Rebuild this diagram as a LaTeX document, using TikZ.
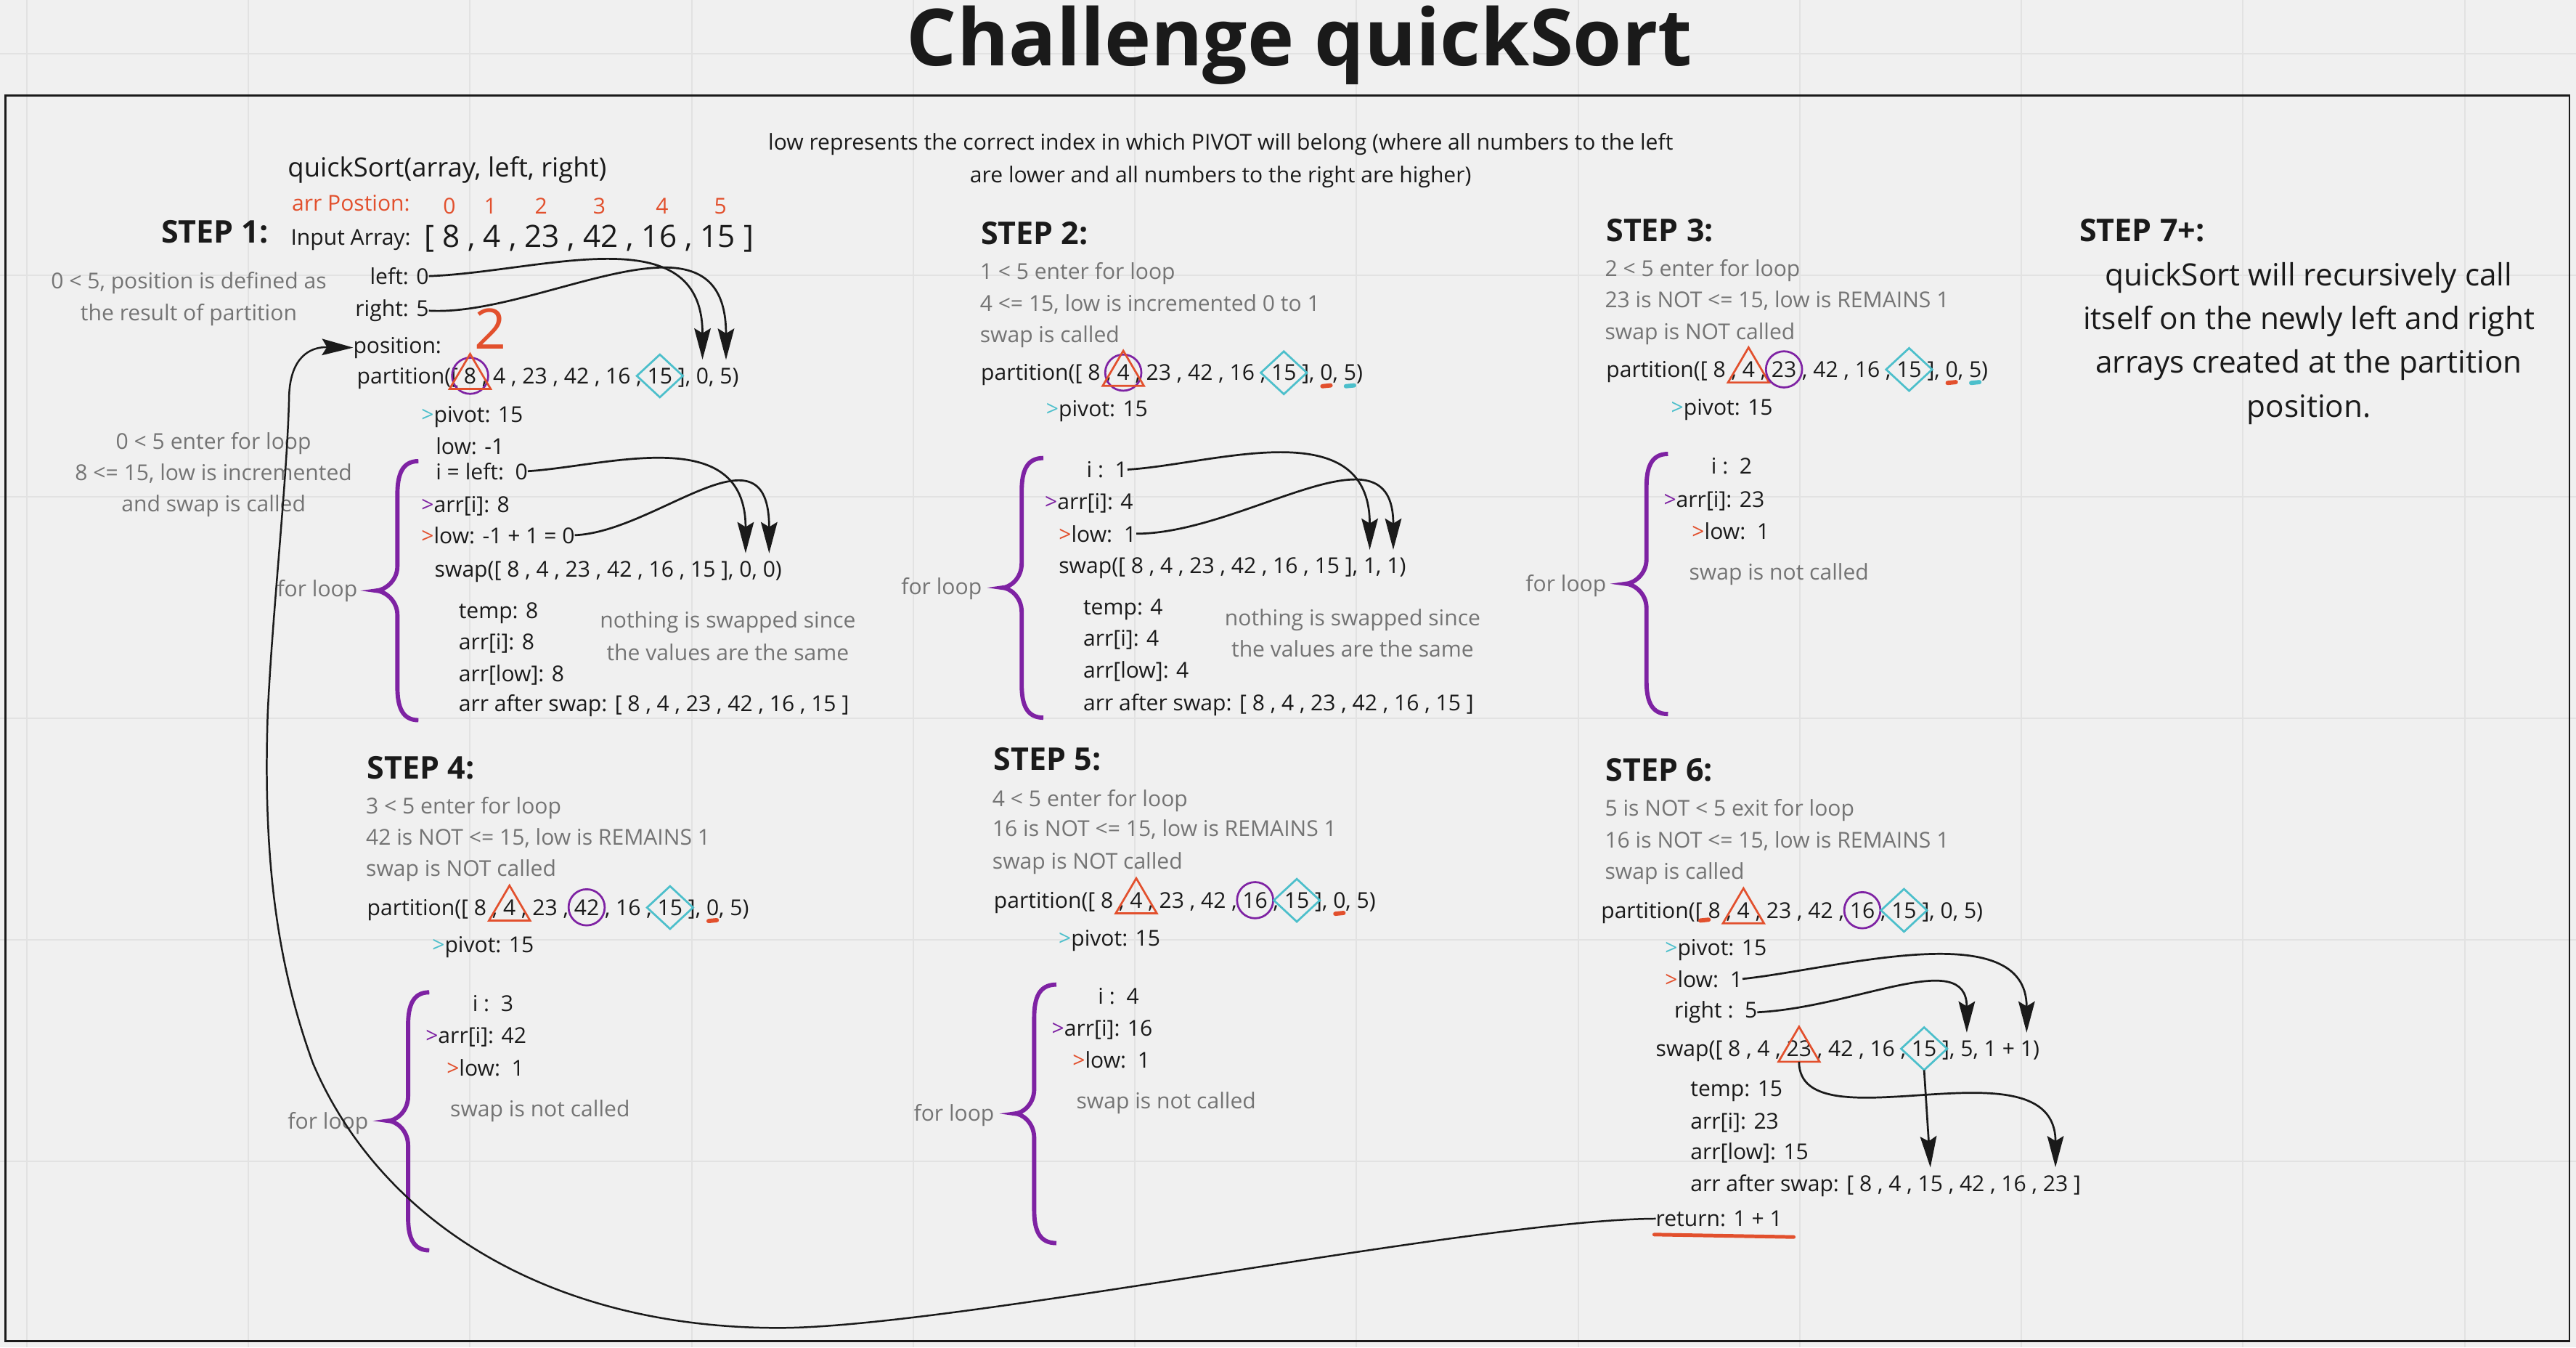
\documentclass[tikz,border=0pt]{standalone}
\usepackage{fontspec}
\setmainfont{Open Sans}
\usetikzlibrary{arrows.meta}
\definecolor{bgc}{RGB}{240,240,240}
\definecolor{gridc}{RGB}{226,226,226}
\definecolor{ink}{RGB}{26,26,26}
\definecolor{gtxt}{RGB}{116,116,116}
\definecolor{redc}{RGB}{226,80,45}
\definecolor{purp}{RGB}{126,34,163}
\definecolor{cyn}{RGB}{76,191,203}
\newcommand\fsb{\fontsize{13.3}{18}\selectfont}
\tikzset{
  txt/.style={font=\fsb, text=ink, inner sep=0pt, outer sep=0pt, anchor=base west},
  gry/.style={txt, text=gtxt},
  gryc/.style={gry, anchor=base},
  stp/.style={txt, font=\fontsize{19}{22}\selectfont\bfseries},
  ph/.style={txt},
  conn/.style={draw=ink, line width=1.2pt, -{Stealth[length=19pt,width=10pt,inset=3pt]}},
  tri/.style={draw=redc, line width=1.2pt},
  circ/.style={draw=purp, line width=1.2pt},
  dia/.style={draw=cyn, line width=1.2pt},
  brc/.style={draw=purp, line width=2.6pt},
  mk/.style={line width=2.6pt, line cap=round},
  gridl/.style={draw=gridc, line width=0.9pt}
}
\newcommand\mktok[4]{\node[ph] (#1-p) at (#2.base west) {\phantom{#3}};\node[ph] (#1) at (#1-p.base east) {\phantom{#4}};}
\newcommand\ptri[1]{\draw[tri] ([xshift=-12.5pt,yshift=-8pt]#1.center) -- ([yshift=13.3pt]#1.center) -- ([xshift=12.5pt,yshift=-8pt]#1.center) -- cycle;}
\newcommand\pcir[1]{\draw[circ] (#1.center) circle[radius=11pt];}
\newcommand\pdia[1]{\draw[dia] ([xshift=-14pt]#1.center) -- ([yshift=13pt]#1.center) -- ([xshift=14pt]#1.center) -- ([yshift=-13pt]#1.center) -- cycle;}
\newcommand\pmk[2]{\draw[mk,#2] ([xshift=-2.5pt,yshift=-3.5pt]#1.base) -- ([xshift=2.5pt,yshift=-3pt]#1.base);}
\newcommand\loopbr[6]{\draw[brc] (#1,#4) .. controls ({#2+3},#4) and (#2,{#4+8}) .. (#2,{#4+20}) -- (#2,{#5-15}) .. controls (#2,{#5-5}) and ({#3+4},#5) .. (#3,#5) .. controls ({#3+4},#5) and (#2,{#5+5}) .. (#2,{#5+15}) -- (#2,{#6-20}) .. controls (#2,{#6-8}) and ({#2+3},#6) .. (#1,#6);}
\begin{document}
\begin{tikzpicture}[x=1pt,y=-1pt]
\useasboundingbox (0,0) rectangle (1568,820);
\fill[bgc] (0,0) rectangle (1568,820);
\foreach \k in {0,...,11} \draw[gridl] ({16.3+134.9*\k},0) -- ({16.3+134.9*\k},820);
\foreach \k in {0,...,5} \draw[gridl] (0,{32.7+134.8*\k}) -- (1568,{32.7+134.8*\k});
\draw[ink, line width=1.3pt] (3.5,58) rectangle (1564,816);

% title and note
\node[font=\fontsize{48}{50}\selectfont\bfseries, text=ink, anchor=base, inner sep=0pt] (title) at (791,40) {Challenge quickSort};
\node[txt, anchor=base] (note1) at (743,91.3) {low represents the correct index in which PIVOT will belong (where all numbers to the left};
\node[txt, anchor=base] (note2) at (743,111) {are lower and all numbers to the right are higher)};

% STEP 1
\node[txt, font=\fontsize{16.1}{19}\selectfont] (qs) at (175.2,107.4) {quickSort(array, left, right)};
\node[txt, text=redc] (arrpos) at (177.7,128.2) {arr Postion:};
\node[txt, text=redc, anchor=base] (ix0) at (273.5,130.2) {0};
\node[txt, text=redc, anchor=base] (ix1) at (298.5,130.2) {1};
\node[txt, text=redc, anchor=base] (ix2) at (329.3,130.2) {2};
\node[txt, text=redc, anchor=base] (ix3) at (364.8,130.2) {3};
\node[txt, text=redc, anchor=base] (ix4) at (403,130.2) {4};
\node[txt, text=redc, anchor=base] (ix5) at (438.5,130.2) {5};
\node[stp] (st1) at (98.2,148) {STEP 1:};
\node[txt] (inarr) at (177,149.2) {Input Array:};
\node[txt, font=\fontsize{18.7}{22}\selectfont] (arr) at (258.3,150.5) {[ 8 , 4 , 23 , 42 , 16 , 15 ]};
\node[gryc] (n1a) at (114.9,175.6) {0 < 5, position is defined as};
\node[gryc] (n1b) at (114.9,195) {the result of partition};
\node[txt, anchor=base east] (left1) at (261,173) {left: 0};
\node[txt, anchor=base east] (right1) at (261,192.5) {right: 5};
\node[txt] (pos) at (215,214.8) {position:};
\node[txt, text=redc, anchor=center, font=\fontsize{34}{34}\selectfont] (two) at (298.6,200) {2};
\node[txt] (p1) at (217.3,233.4) {partition([ 8 , 4 , 23 , 42 , 16 , 15 ], 0, 5)};
\node[txt] (pv1) at (256.5,257) {\textcolor{cyn}{>}pivot: 15};
\node[txt] (lw1) at (265.3,276.5) {low: -1};
\node[txt] (il1) at (265.3,291.7) {i = left:\ \ 0};
\node[txt] (ai1) at (256.5,312) {\textcolor{purp}{>}arr[i]: 8};
\node[txt] (lc1) at (256.5,330.6) {\textcolor{redc}{>}low: -1 + 1 = 0};
\node[txt] (sw1) at (264.6,351.3) {swap([ 8 , 4 , 23 , 42 , 16 , 15 ], 0, 0)};
\node[txt] (tp1) at (279.2,376.3) {temp: 8};
\node[txt] (ar1) at (279.2,395.5) {arr[i]: 8};
\node[txt] (al1) at (279.2,414.6) {arr[low]: 8};
\node[txt] (as1) at (279.2,433) {arr after swap: [ 8 , 4 , 23 , 42 , 16 , 15 ]};
\node[gryc] (ns1a) at (443,382.2) {nothing is swapped since};
\node[gryc] (ns1b) at (443,402) {the values are the same};
\node[gry] (fl1) at (168.6,363.1) {for loop};
\node[gryc] (g1a) at (130,273.2) {0 < 5 enter for loop};
\node[gryc] (g1b) at (130,292.4) {8 <= 15, low is incremented};
\node[gryc] (g1c) at (130,311.5) {and swap is called};
\mktok{p1e}{p1}{partition([ }{8}
\mktok{p1f}{p1}{partition([ 8 , 4 , 23 , 42 , 16 , }{15}
\mktok{p1z}{p1}{partition([ 8 , 4 , 23 , 42 , 16 , 15 ], }{0}
\mktok{p1v}{p1}{partition([ 8 , 4 , 23 , 42 , 16 , 15 ], 0, }{5}
\mktok{s1a}{sw1}{swap([ 8 , 4 , 23 , 42 , 16 , 15 ], }{0}
\mktok{s1b}{sw1}{swap([ 8 , 4 , 23 , 42 , 16 , 15 ], 0, }{0}
\pcir{p1e}\ptri{p1e}\pdia{p1f}
\draw[conn] (left1.east) .. controls +(69,-2.5) and +(0,-88) .. ([yshift=5pt]p1z.north);
\draw[conn] (right1.east) .. controls +(68,4) and +(0,-100) .. ([yshift=5pt]p1v.north);
\draw[conn] (il1.east) .. controls +(48,-3) and +(0,-80) .. ([yshift=5pt]s1a.north);
\draw[conn] (lc1.east) .. controls +(50,-2) and +(0,-82) .. ([yshift=5pt]s1b.north);
\loopbr{254.7}{241.9}{229}{280.6}{359.4}{438.2}

% STEP 2
\node[stp] (st2) at (597.1,148.5) {STEP 2:};
\node[gry] (g2a) at (596.5,169.7) {1 < 5 enter for loop};
\node[gry] (g2b) at (596.5,189.3) {4 <= 15, low is incremented 0 to 1};
\node[gry] (g2c) at (596.5,208.4) {swap is called};
\node[txt] (p2) at (597.1,231.5) {partition([ 8 , 4 , 23 , 42 , 16 , 15 ], 0, 5)};
\node[txt] (pv2) at (636.8,253.3) {\textcolor{cyn}{>}pivot: 15};
\node[txt] (i2) at (661.4,290.5) {i :\ \ 1};
\node[txt] (ai2) at (636,310) {\textcolor{purp}{>}arr[i]: 4};
\node[txt] (lw2) at (644.5,329.7) {\textcolor{redc}{>}low:\ \ 1};
\node[txt] (sw2) at (644.5,349) {swap([ 8 , 4 , 23 , 42 , 16 , 15 ], 1, 1)};
\node[txt] (tp2) at (659.4,374.1) {temp: 4};
\node[txt] (ar2) at (659.4,393.3) {arr[i]: 4};
\node[txt] (al2) at (659.4,412.7) {arr[low]: 4};
\node[txt] (as2) at (659.4,432.3) {arr after swap: [ 8 , 4 , 23 , 42 , 16 , 15 ]};
\node[gryc] (ns2a) at (823.3,380.8) {nothing is swapped since};
\node[gryc] (ns2b) at (823.3,399.9) {the values are the same};
\node[gry] (fl2) at (548.6,361.6) {for loop};
\mktok{p2f}{p2}{partition([ 8 , }{4}
\mktok{p2d}{p2}{partition([ 8 , 4 , 23 , 42 , 16 , }{15}
\mktok{p2z}{p2}{partition([ 8 , 4 , 23 , 42 , 16 , 15 ], }{0}
\mktok{p2v}{p2}{partition([ 8 , 4 , 23 , 42 , 16 , 15 ], 0, }{5}
\mktok{s2a}{sw2}{swap([ 8 , 4 , 23 , 42 , 16 , 15 ], }{1}
\mktok{s2b}{sw2}{swap([ 8 , 4 , 23 , 42 , 16 , 15 ], 1, }{1}
\pcir{p2f}\ptri{p2f}\pdia{p2d}\pmk{p2z}{redc}\pmk{p2v}{cyn}
\draw[conn] (i2.east) .. controls +(52,-3) and +(0,-85) .. ([yshift=5pt]s2a.north);
\draw[conn] (lw2.east) .. controls +(66,0) and +(0,-80) .. ([yshift=5pt]s2b.north);
\loopbr{635.1}{621.9}{610.1}{278.7}{357.6}{436.7}

% STEP 3
\node[stp] (st3) at (977.7,147) {STEP 3:};
\node[gry] (g3a) at (976.9,168.2) {2 < 5 enter for loop};
\node[gry] (g3b) at (976.9,187.1) {23 is NOT <= 15, low is REMAINS 1};
\node[gry] (g3c) at (976.9,206.5) {swap is NOT called};
\node[txt] (p3) at (977.7,229.5) {partition([ 8 , 4 , 23 , 42 , 16 , 15 ], 0, 5)};
\node[txt] (pv3) at (1017.2,252.6) {\textcolor{cyn}{>}pivot: 15};
\node[txt] (i3) at (1041.6,288.4) {i :\ \ 2};
\node[txt] (ai3) at (1012.7,308.6) {\textcolor{purp}{>}arr[i]: 23};
\node[txt] (lw3) at (1029.9,328.1) {\textcolor{redc}{>}low:\ \ 1};
\node[gry] (sn3) at (1028.2,352.7) {swap is not called};
\node[gry, anchor=base east] (fl3) at (977.7,360.1) {for loop};
\mktok{p3f}{p3}{partition([ 8 , }{4}
\mktok{p3c}{p3}{partition([ 8 , 4 , }{23}
\mktok{p3d}{p3}{partition([ 8 , 4 , 23 , 42 , 16 , }{15}
\mktok{p3z}{p3}{partition([ 8 , 4 , 23 , 42 , 16 , 15 ], }{0}
\mktok{p3v}{p3}{partition([ 8 , 4 , 23 , 42 , 16 , 15 ], 0, }{5}
\ptri{p3f}\pcir{p3c}\pdia{p3d}\pmk{p3z}{redc}\pmk{p3v}{cyn}
\loopbr{1015.3}{1002.2}{989.6}{276.2}{355.2}{434.5}

% STEP 7+
\node[stp] (st7) at (1265.8,147) {STEP 7+:};
\node[txt, anchor=base, font=\fontsize{18.7}{22}\selectfont] (r1) at (1405.4,173.8) {quickSort will recursively call};
\node[txt, anchor=base, font=\fontsize{18.7}{22}\selectfont] (r2) at (1405.4,200.3) {itself on the newly left and right};
\node[txt, anchor=base, font=\fontsize{18.7}{22}\selectfont] (r3) at (1405.4,227.1) {arrays created at the partition};
\node[txt, anchor=base, font=\fontsize{18.7}{22}\selectfont] (r4) at (1405.4,254.1) {position.};

% STEP 4
\node[stp] (st4) at (223.5,473.8) {STEP 4:};
\node[gry] (g4a) at (222.8,495.2) {3 < 5 enter for loop};
\node[gry] (g4b) at (222.8,514.1) {42 is NOT <= 15, low is REMAINS 1};
\node[gry] (g4c) at (222.8,533.3) {swap is NOT called};
\node[txt] (p4) at (223.5,556.9) {partition([ 8 , 4 , 23 , 42 , 16 , 15 ], 0, 5)};
\node[txt] (pv4) at (263.1,579.8) {\textcolor{cyn}{>}pivot: 15};
\node[txt] (i4) at (287.6,615.2) {i :\ \ 3};
\node[txt] (ai4) at (259.1,634.9) {\textcolor{purp}{>}arr[i]: 42};
\node[txt] (lw4) at (271.9,654.8) {\textcolor{redc}{>}low:\ \ 1};
\node[gry] (sn4) at (274.1,679.4) {swap is not called};
\node[gry] (fl4) at (175.2,686.9) {for loop};
\mktok{p4f}{p4}{partition([ 8 , }{4}
\mktok{p4c}{p4}{partition([ 8 , 4 , 23 , }{42}
\mktok{p4d}{p4}{partition([ 8 , 4 , 23 , 42 , 16 , }{15}
\mktok{p4z}{p4}{partition([ 8 , 4 , 23 , 42 , 16 , 15 ], }{0}
\ptri{p4f}\pcir{p4c}\pdia{p4d}\pmk{p4z}{redc}
\loopbr{261.3}{248.4}{236.3}{603.8}{682}{760.8}

% STEP 5
\node[stp] (st5) at (605,468.7) {STEP 5:};
\node[gry] (g5a) at (604.1,490.6) {4 < 5 enter for loop};
\node[gry] (g5b) at (604.1,508.8) {16 is NOT <= 15, low is REMAINS 1};
\node[gry] (g5c) at (604.1,528.7) {swap is NOT called};
\node[txt] (p5) at (605,552.5) {partition([ 8 , 4 , 23 , 42 , 16 , 15 ], 0, 5)};
\node[txt] (pv5) at (644.4,575.4) {\textcolor{cyn}{>}pivot: 15};
\node[txt] (i5) at (668.4,610.9) {i :\ \ 4};
\node[txt] (ai5) at (640.2,630.2) {\textcolor{purp}{>}arr[i]: 16};
\node[txt] (lw5) at (652.9,649.9) {\textcolor{redc}{>}low:\ \ 1};
\node[gry] (sn5) at (655.2,674.8) {swap is not called};
\node[gry] (fl5) at (556.2,682.3) {for loop};
\mktok{p5f}{p5}{partition([ 8 , }{4}
\mktok{p5c}{p5}{partition([ 8 , 4 , 23 , 42 , }{16}
\mktok{p5d}{p5}{partition([ 8 , 4 , 23 , 42 , 16 , }{15}
\mktok{p5z}{p5}{partition([ 8 , 4 , 23 , 42 , 16 , 15 ], }{0}
\ptri{p5f}\pcir{p5c}\pdia{p5d}\pmk{p5z}{redc}
\loopbr{643}{629.5}{617.7}{599.1}{677.6}{756.4}

% STEP 6
\node[stp] (st6) at (977.4,475.4) {STEP 6:};
\node[gry] (g6a) at (976.9,496.7) {5 is NOT < 5 exit for loop};
\node[gry] (g6b) at (976.9,515.9) {16 is NOT <= 15, low is REMAINS 1};
\node[gry] (g6c) at (976.9,534.8) {swap is called};
\node[txt] (p6) at (974.6,558.6) {partition([ 8 , 4 , 23 , 42 , 16 , 15 ], 0, 5)};
\node[txt] (pv6) at (1013.5,581.5) {\textcolor{cyn}{>}pivot: 15};
\node[txt] (lw6) at (1013.5,600.6) {\textcolor{redc}{>}low:\ \ 1};
\node[txt] (rt6) at (1019.2,619.4) {right :\ \ 5};
\node[txt] (sw6) at (1007.9,642.8) {swap([ 8 , 4 , 23 , 42 , 16 , 15 ], 5, 1 + 1)};
\node[txt] (tp6) at (1029,667.1) {temp: 15};
\node[txt] (ar6) at (1029,687) {arr[i]: 23};
\node[txt] (al6) at (1029,705.6) {arr[low]: 15};
\node[txt] (as6) at (1029,724.9) {arr after swap: [ 8 , 4 , 15 , 42 , 16 , 23 ]};
\node[txt] (ret6) at (1007.9,746.2) {return: 1 + 1};
\mktok{p6b}{p6}{partition(}{[}
\mktok{p6f}{p6}{partition([ 8 , }{4}
\mktok{p6c}{p6}{partition([ 8 , 4 , 23 , 42 , }{16}
\mktok{p6d}{p6}{partition([ 8 , 4 , 23 , 42 , 16 , }{15}
\mktok{s6t}{sw6}{swap([ 8 , 4 , }{23}
\mktok{s6d}{sw6}{swap([ 8 , 4 , 23 , 42 , 16 , }{15}
\mktok{s6v}{sw6}{swap([ 8 , 4 , 23 , 42 , 16 , 15 ], }{5}
\mktok{s6o}{sw6}{swap([ 8 , 4 , 23 , 42 , 16 , 15 ], 5, 1 + }{1}
\mktok{a6a}{as6}{arr after swap: [ 8 , 4 , }{15}
\mktok{a6b}{as6}{arr after swap: [ 8 , 4 , 15 , 42 , 16 , }{23}
\draw[mk, redc] ([xshift=1pt,yshift=-1.5pt]p6b.base) -- ([xshift=6pt,yshift=-1pt]p6b.base);
\ptri{p6f}\pcir{p6c}\pdia{p6d}\ptri{s6t}\pdia{s6d}
\coordinate (s6tb) at ([yshift=-8pt]s6t.center);
\coordinate (s6db) at ([yshift=-13pt]s6d.center);
\draw[conn] (lw6.east) .. controls +(57,-6) and +(0,-72) .. ([yshift=5pt]s6o.north);
\draw[conn] (rt6.east) .. controls +(60,-3) and +(0,-52) .. ([yshift=5pt]s6v.north);
\draw[conn] (s6tb) .. controls +(0,53) and +(0,-80) .. ([yshift=5pt]a6b.north);
\draw[conn] (s6db) -- ([yshift=5pt]a6a.north);
\draw[redc, line width=2.2pt, line cap=round] ([xshift=-1pt,yshift=-5pt]ret6.base west) -- ([xshift=7pt,yshift=-6.5pt]ret6.base east);

% return connector
\draw[conn, line width=1.1pt] (ret6.west) .. controls (900,742) and (580,808) .. (474,808) .. controls (330,808) and (230,740) .. (190.5,647) .. controls (168,585) and (160,520) .. (163,433) .. controls (166,370) and (175,290) .. (176,240) .. controls (177,218) and (188,211) .. (pos.west);
\end{tikzpicture}
\end{document}
